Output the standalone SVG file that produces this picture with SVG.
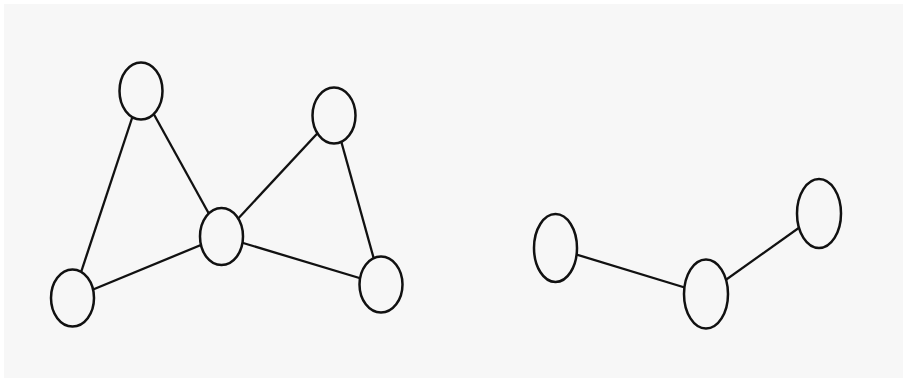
<svg xmlns="http://www.w3.org/2000/svg" width="903" height="378" viewBox="0 0 903 378">
<style>
.n{fill:#f7f7f7;stroke:#111;stroke-width:2.5}
.e{stroke:#111;stroke-width:2.3;fill:none}
</style>
<rect x="0" y="0" width="903" height="378" fill="#ffffff"/>
<rect x="4" y="4" width="899" height="374" fill="#f7f7f7"/>
<g id="edges">
<line class="e" x1="141" y1="91" x2="72.5" y2="298"/>
<line class="e" x1="141" y1="91" x2="221.5" y2="236.5"/>
<line class="e" x1="221.5" y1="236.5" x2="72.5" y2="298"/>
<line class="e" x1="221.5" y1="236.5" x2="334" y2="115.5"/>
<line class="e" x1="334" y1="115.5" x2="381" y2="284.5"/>
<line class="e" x1="221.5" y1="236.5" x2="381" y2="284.5"/>
<line class="e" x1="555" y1="248" x2="706" y2="294"/>
<line class="e" x1="706" y1="294" x2="819" y2="213.5"/>
</g>
<g id="nA"><ellipse class="n" cx="141" cy="91" rx="21.5" ry="28.5"/></g>
<g id="nB"><ellipse class="n" cx="72.5" cy="298" rx="21.5" ry="28.5"/></g>
<g id="nC"><ellipse class="n" cx="221.5" cy="236.5" rx="21.5" ry="28.5"/></g>
<g id="nD"><ellipse class="n" cx="334" cy="115.5" rx="21.5" ry="28"/></g>
<g id="nE"><ellipse class="n" cx="381" cy="284.5" rx="21.5" ry="28"/></g>
<g id="nF"><ellipse class="n" cx="555.5" cy="248" rx="21.5" ry="34"/></g>
<g id="nG"><ellipse class="n" cx="706" cy="294" rx="22" ry="34.5"/></g>
<g id="nH"><ellipse class="n" cx="819" cy="213.5" rx="22" ry="34.5"/></g>
</svg>
